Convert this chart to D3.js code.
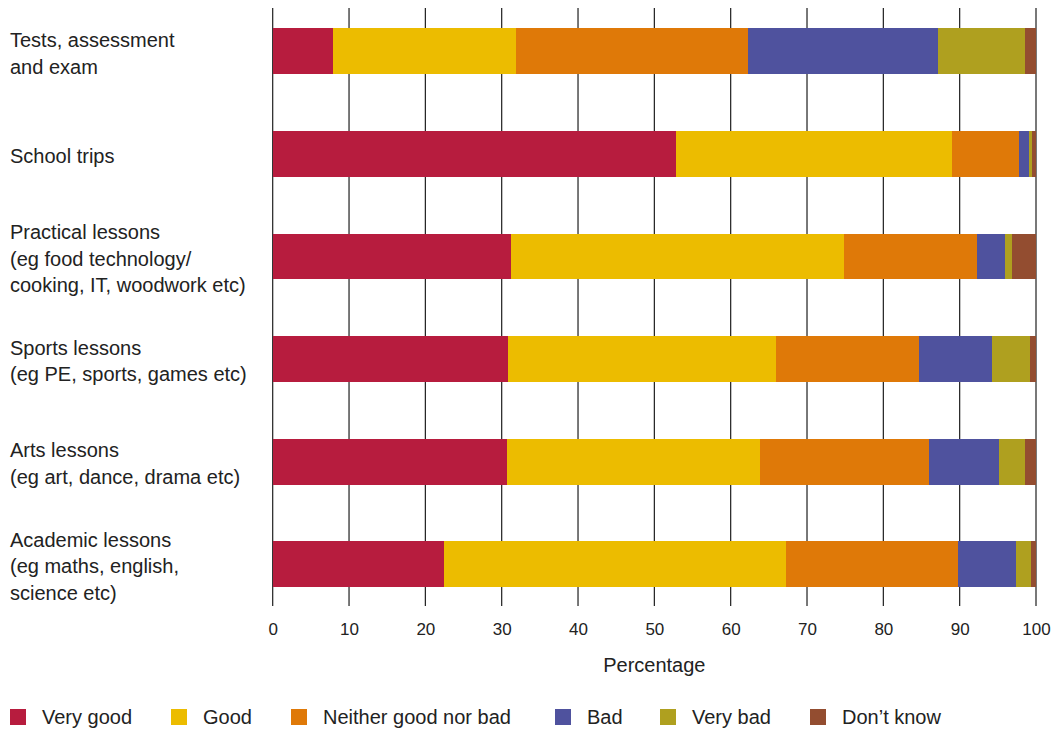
<!DOCTYPE html>
<html>
<head>
<meta charset="utf-8">
<script src="https://cdn.jsdelivr.net/npm/d3@7"></script>
<style>
  html, body { margin: 0; padding: 0; background: #fff; }
  svg { display: block; }
  text { font-family: "Liberation Sans", Arial, Helvetica, sans-serif; fill: #222; }
</style>
</head>
<body>
<svg id="chart" width="1052" height="731"></svg>
<script>
// ---- data ----
const categories = [
  ["Tests, assessment", "and exam"],
  ["School trips"],
  ["Practical lessons", "(eg food technology/", "cooking, IT, woodwork etc)"],
  ["Sports lessons", "(eg PE, sports, games etc)"],
  ["Arts lessons", "(eg art, dance, drama etc)"],
  ["Academic lessons", "(eg maths, english,", "science etc)"]
];
const seriesNames = ["Very good", "Good", "Neither good nor bad", "Bad", "Very bad", "Don\u2019t know"];
const veryGood  = [7.9, 52.9, 31.2, 30.8, 30.7, 22.4];
const good      = [24.0, 36.1, 43.7, 35.2, 33.2, 44.8];
const neither   = [30.4, 8.8, 17.4, 18.7, 22.1, 22.6];
const bad       = [24.9, 1.3, 3.6, 9.6, 9.1, 7.6];
const veryBad   = [11.3, 0.4, 0.9, 4.9, 3.5, 2.0];
const dontKnow  = [1.5, 0.5, 3.2, 0.8, 1.4, 0.6];
const tickValues = [0, 10, 20, 30, 40, 50, 60, 70, 80, 90, 100];
const axisTitle = "Percentage";

// ---- style / layout ----
const colors = ["#B71C3E", "#ECBC00", "#DF7908", "#4F529E", "#AFA01F", "#934D30"];
const legendX = [10, 171, 291, 555, 660, 810];

const seriesValues = [veryGood, good, neither, bad, veryBad, dontKnow];
const keys = seriesNames;
const rows = categories.map((c, i) => {
  const r = { idx: i };
  keys.forEach((k, j) => r[k] = seriesValues[j][i]);
  return r;
});

const svg = d3.select("#chart");
const x = d3.scaleLinear().domain([0, 100]).range([272.7, 1036]);
const y = d3.scaleBand().domain(d3.range(categories.length)).range([0, 615.6])
  .paddingInner(0.552).paddingOuter(0.276);

// gridlines
svg.append("g").selectAll("line").data(tickValues).join("line")
  .attr("x1", d => x(d)).attr("x2", d => x(d))
  .attr("y1", 8).attr("y2", 606)
  .attr("stroke", "#1e1e1e").attr("stroke-width", 1.2);

// bars
const stack = d3.stack().keys(keys)(rows);
svg.append("g").selectAll("g").data(stack).join("g")
  .attr("fill", (d, i) => colors[i])
  .selectAll("rect").data(d => d).join("rect")
  .attr("x", d => x(d[0]))
  .attr("width", d => x(d[1]) - x(d[0]))
  .attr("y", d => y(d.data.idx))
  .attr("height", y.bandwidth())
  .attr("shape-rendering", "crispEdges");

// category labels
const lh = 26.5;
const lab = svg.append("g");
categories.forEach((lines, i) => {
  const c = y(i) + y.bandwidth() / 2;
  const first = c - (lines.length - 1) * lh / 2 + 9;
  const t = lab.append("text").attr("x", 10).attr("font-size", 20);
  lines.forEach((ln, j) => {
    t.append("tspan").attr("x", 10).attr("y", first + j * lh).text(ln);
  });
});

// x axis tick labels
const axis = d3.axisBottom(x).tickValues(tickValues).tickSize(0).tickPadding(0);
const ax = svg.append("g").attr("transform", "translate(0,623)").call(axis);
ax.select(".domain").remove();
ax.selectAll("text").attr("font-size", 17).attr("dy", "0.71em")
  .style("font-family", '"Liberation Sans", Arial, sans-serif').style("fill", "#222");

svg.append("text").attr("x", x(50)).attr("y", 672).attr("text-anchor", "middle")
  .attr("font-size", 20).text(axisTitle);

// legend
const lg = svg.append("g");
seriesNames.forEach((name, i) => {
  lg.append("rect").attr("x", legendX[i]).attr("y", 709).attr("width", 16).attr("height", 16)
    .attr("fill", colors[i]);
  lg.append("text").attr("x", legendX[i] + 32).attr("y", 724).attr("font-size", 20).text(name);
});
</script>
</body>
</html>
